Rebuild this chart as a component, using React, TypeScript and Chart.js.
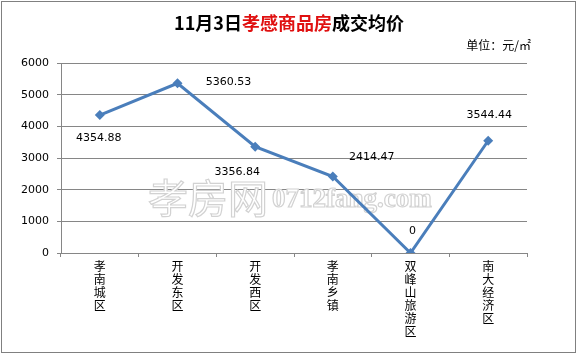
import React, { useEffect, useRef } from 'react';
import { Chart, registerables } from 'chart.js';

Chart.register(...registerables);

const categories = ['孝南城区', '开发东区', '开发西区', '孝南乡镇', '双峰山旅游区', '南大经济区'];
const prices = [4354.88, 5360.53, 3356.84, 2414.47, 0, 3544.44];
const priceLabels = ['4354.88', '5360.53', '3356.84', '2414.47', '0', '3544.44'];
const yMin = 0;
const yMax = 6000;
const yStep = 1000;
const titleParts = ['11月3日', '孝感商品房', '成交均价'];
const unitText = '单位：元/㎡';
const watermarkCn = '孝房网';
const watermarkEn = '0712fang.com';

// label placement offsets (dx, dy) relative to each point
const labelOffsets: [number, number][] = [[-1, 23], [51, -1], [-18, 25], [39, -19], [2, -22], [1, -26]];

const W = 578;
const H = 354;

export default function App() {
  const ref = useRef<HTMLCanvasElement | null>(null);

  useEffect(() => {
    const canvas = ref.current;
    if (!canvas) return;

    const decor = {
      id: 'decor',
      beforeDraw(chart: any) {
        const ctx = chart.ctx;
        ctx.save();
        ctx.fillStyle = '#ffffff';
        ctx.fillRect(0, 0, W, H);
        ctx.restore();
      },
      beforeDatasetsDraw(chart: any) {
        const ctx = chart.ctx;
        ctx.save();
        ctx.textBaseline = 'middle';
        ctx.textAlign = 'left';
        ctx.lineWidth = 1.2;
        ctx.strokeStyle = '#d2d2d2';
        ctx.fillStyle = '#ffffff';
        ctx.font = '40px "Noto Sans CJK SC"';
        ctx.fillText(watermarkCn, 148, 198);
        ctx.strokeText(watermarkCn, 148, 198);
        ctx.font = 'bold 27px "Liberation Serif"';
        ctx.fillText(watermarkEn, 272, 200);
        ctx.strokeText(watermarkEn, 272, 200);
        ctx.restore();
      },
      afterDatasetsDraw(chart: any) {
        const ctx = chart.ctx;
        const meta = chart.getDatasetMeta(0);
        ctx.save();
        ctx.font = '11px "DejaVu Sans"';
        ctx.fillStyle = '#000000';
        ctx.textAlign = 'center';
        ctx.textBaseline = 'middle';
        meta.data.forEach((pt: any, i: number) => {
          const [dx, dy] = labelOffsets[i];
          ctx.fillText(priceLabels[i], pt.x + dx, pt.y + dy);
        });
        ctx.restore();
      },
      afterDraw(chart: any) {
        const ctx = chart.ctx;
        ctx.save();
        // title
        ctx.textBaseline = 'middle';
        ctx.textAlign = 'left';
        const fonts = [
          'bold 18px "Noto Sans CJK SC"',
          'bold 18px "Noto Sans CJK SC"',
          'bold 18px "Noto Sans CJK SC"',
        ];
        const colors = ['#000000', '#e01010', '#000000'];
        const widths = titleParts.map((t, i) => {
          ctx.font = fonts[i];
          return ctx.measureText(t).width;
        });
        const total = widths.reduce((a, b) => a + b, 0);
        let x = 289 - total / 2;
        titleParts.forEach((t, i) => {
          ctx.font = fonts[i];
          ctx.fillStyle = colors[i];
          ctx.fillText(t, x, 23);
          x += widths[i];
        });
        // unit
        ctx.font = '12px "Noto Sans CJK SC"';
        ctx.fillStyle = '#000000';
        ctx.textAlign = 'right';
        ctx.fillText(unitText, 531, 45);
        // outer frame
        ctx.strokeStyle = '#808080';
        ctx.lineWidth = 1;
        ctx.strokeRect(1.5, 1.5, 574, 351);
        ctx.restore();
      },
    };

    const chart = new Chart(canvas, {
      type: 'line',
      data: {
        labels: categories.map((c) => c.split('')),
        datasets: [
          {
            data: prices,
            borderColor: '#4a7ebb',
            backgroundColor: '#4a7ebb',
            borderWidth: 3,
            pointStyle: 'rectRot',
            pointRadius: 5,
            pointBorderWidth: 0,
            tension: 0,
          },
        ],
      },
      options: {
        responsive: false,
        animation: false,
        devicePixelRatio: 1,
        layout: { padding: { top: 63, right: 51, bottom: 0, left: 0 } },
        plugins: {
          legend: { display: false },
          title: { display: false },
          tooltip: { enabled: false },
        },
        scales: {
          x: {
            type: 'category',
            offset: true,
            afterFit: (s: any) => {
              s.height = 101;
            },
            grid: {
              offset: true,
              drawOnChartArea: false,
              drawTicks: true,
              tickLength: 4,
              color: '#868686',
            },
            border: { display: true, color: '#868686', width: 1 },
            ticks: {
              autoSkip: false,
              maxRotation: 0,
              minRotation: 0,
              padding: 3,
              color: '#000000',
              font: { family: '"Noto Sans CJK SC"', size: 12, lineHeight: 13 / 12 },
            },
          },
          y: {
            min: yMin,
            max: yMax,
            afterFit: (s: any) => {
              s.width = 61;
            },
            grid: {
              drawOnChartArea: true,
              drawTicks: true,
              tickLength: 4,
              color: '#868686',
            },
            border: { display: true, color: '#868686', width: 1 },
            ticks: {
              stepSize: yStep,
              padding: 8,
              color: '#000000',
              font: { family: '"DejaVu Sans"', size: 11 },
              callback: (v: any) => String(v),
            },
          },
        },
      },
      plugins: [decor],
    });

    return () => {
      chart.destroy();
    };
  }, []);

  return (
    <div style={{ position: 'absolute', left: 0, top: 0, width: W, height: H }}>
      <canvas ref={ref} width={W} height={H} style={{ display: 'block', width: W, height: H }} />
    </div>
  );
}
